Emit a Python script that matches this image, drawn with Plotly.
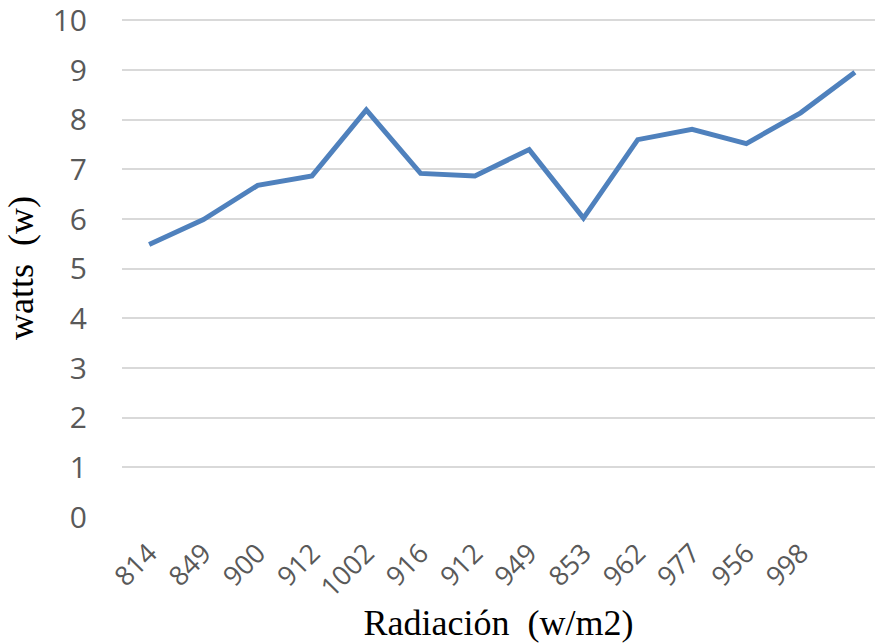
import plotly.graph_objects as go

radiacion_labels = ["814", "849", "900", "912", "1002", "916", "912", "949",
                    "853", "962", "977", "956", "998", ""]
watts = [5.49, 5.99, 6.68, 6.87, 8.20, 6.92, 6.87, 7.40, 6.02, 7.60, 7.81,
         7.52, 8.14, 8.96]
y_ticks = list(range(0, 11))

positions = list(range(len(watts)))

fig = go.Figure()
fig.add_trace(go.Scatter(
    x=positions, y=watts, mode="lines",
    line=dict(color="#4F81BD", width=5, shape="linear"),
    showlegend=False, hoverinfo="skip",
))

fig.update_layout(
    width=875, height=643,
    margin=dict(l=122, r=0, t=19, b=126, autoexpand=False),
    paper_bgcolor="white", plot_bgcolor="white",
    xaxis=dict(
        range=[-0.5, 13.37],
        tickmode="array", tickvals=positions, ticktext=radiacion_labels,
        tickangle=-45,
        tickfont=dict(family="Open Sans", size=27, color="#595959"),
        showgrid=False, zeroline=False, showline=False, ticks="",
        ticklabelstandoff=14,
        automargin=False,
        title=dict(text="Radiación  (w/m2)",
                   font=dict(family="Liberation Serif", size=36, color="black"),
                   standoff=2),
    ),
    yaxis=dict(
        range=[0, 10.03],
        tickmode="array", tickvals=y_ticks,
        tickfont=dict(family="Open Sans", size=30, color="#595959"),
        showgrid=True, gridcolor="#D9D9D9", gridwidth=1.5,
        zeroline=False, showline=False, ticks="",
        ticklabelstandoff=34, ticklabeloverflow="allow",
        automargin=False,
        title=dict(text="watts  (w)",
                   font=dict(family="Liberation Serif", size=36, color="black"),
                   standoff=8),
    ),
)

fig.write_html("out.html")
